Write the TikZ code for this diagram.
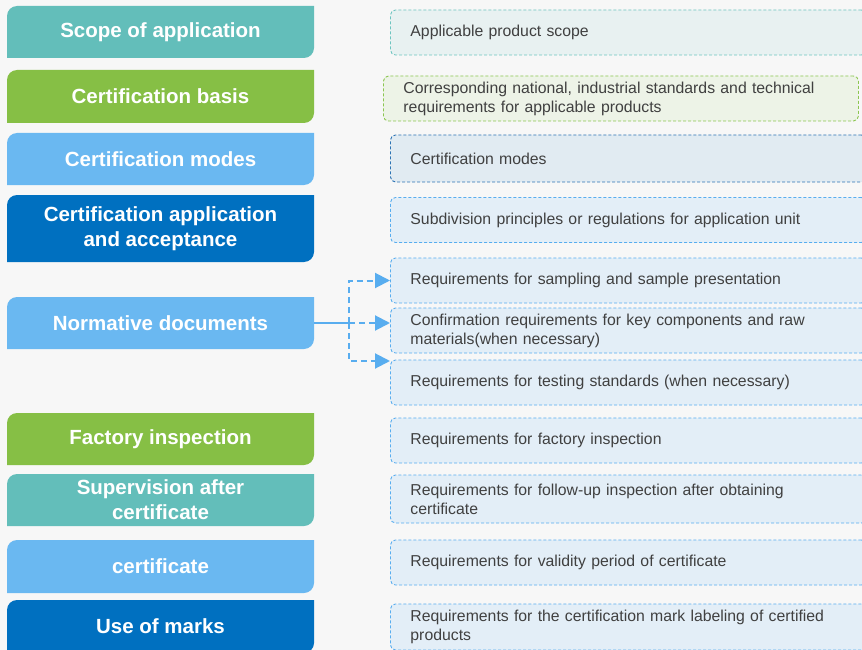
\documentclass[tikz,border=0pt]{standalone}
\usepackage{fontspec}
\setmainfont{Liberation Sans}
\usetikzlibrary{arrows.meta}

\definecolor{teal1}{HTML}{63BEBA}
\definecolor{green1}{HTML}{86BF45}
\definecolor{sky1}{HTML}{6AB8F1}
\definecolor{navy1}{HTML}{0070C0}
\definecolor{tealbg}{HTML}{E8F1F1}
\definecolor{greenbg}{HTML}{EDF3E7}
\definecolor{navybg}{HTML}{E1EBF2}
\definecolor{skybg}{HTML}{E3EEF7}
\definecolor{tealln}{HTML}{6CC4C0}
\definecolor{greenln}{HTML}{8CC650}
\definecolor{navyln}{HTML}{2C73B4}
\definecolor{skyln}{HTML}{58ADEF}
\definecolor{pagebg}{HTML}{F7F7F7}
\definecolor{ink}{HTML}{404040}

\begin{document}
\begin{tikzpicture}[x=1pt, y=-1pt,
    head/.style={minimum width=307pt, minimum height=52pt,
        inner sep=0pt, align=center, text=white, font=\bfseries\fontsize{20.5}{25}\selectfont,
        path picture={
            \fill[#1] (path picture bounding box.south west)
                -- ([yshift=-10pt]path picture bounding box.north west)
                arc[start angle=180, end angle=90, radius=10pt]
                -- (path picture bounding box.north east)
                -- ([yshift=10pt]path picture bounding box.south east)
                arc[start angle=0, end angle=-90, radius=10pt]
                -- cycle;
        }},
    req/.style={draw=#1ln, fill=#1bg, line width=0.9pt, dash pattern=on 3pt off 2pt,
        rounded corners=5pt, minimum height=45pt, text width=436pt, inner xsep=20pt, inner ysep=0pt,
        align=left, anchor=west, text=ink, font=\fontsize{15.8}{19}\selectfont},
    link/.style={draw=skyln, line width=2pt},
    tip/.style={dash pattern=on 6pt off 4pt, -{Triangle[length=15pt,width=15pt]}}]

    % Page
    \useasboundingbox (0,0) rectangle (862,650);
    \fill[pagebg] (0,0) rectangle (862,650);

    % Left column
    \node[head=teal1] (scope) at (160.5,32) {Scope of application};
    \node[head=green1, minimum height=53pt] (basis) at (160.5,96.5) {Certification basis};
    \node[head=sky1] (modes) at (160.5,159) {Certification modes};
    \node[head=navy1, minimum height=67pt] (apply) at (160.5,228.5) {Certification application\\and acceptance};
    \node[head=sky1] (norm) at (160.5,323) {Normative documents};
    \node[head=green1] (factory) at (160.5,439) {Factory inspection};
    \node[head=teal1] (super) at (160.5,500) {Supervision after\\certificate};
    \node[head=sky1, minimum height=53pt] (cert) at (160.5,566.5) {certificate};
    \node[head=navy1, minimum height=53pt] (marks) at (160.5,626.5) {Use of marks};

    % Right column
    \node[req=teal] (r1) at (390,32.5) {Applicable product scope};
    \node[req=green, text width=435pt] (r2) at (383,98.5) {Corresponding national, industrial standards and technical\\requirements for applicable products};
    \node[req=navy, minimum height=47pt] (r3) at (390,158.5) {Certification modes};
    \node[req=sky] (r4) at (390,220) {Subdivision principles or regulations for application unit};
    \node[req=sky] (r5) at (390,280.5) {Requirements for sampling and sample presentation};
    \node[req=sky] (r6) at (390,330.5) {Confirmation requirements for key components and raw\\materials(when necessary)};
    \node[req=sky] (r7) at (390,382.5) {Requirements for testing standards (when necessary)};
    \node[req=sky] (r8) at (390,440.5) {Requirements for factory inspection};
    \node[req=sky, minimum height=48pt] (r9) at (390,499) {Requirements for follow-up inspection after obtaining\\certificate};
    \node[req=sky] (r10) at (390,562.5) {Requirements for validity period of certificate};
    \node[req=sky, minimum height=46pt] (r11) at (390,627) {Requirements for the certification mark labeling of certified\\products};

    % Branches of the normative documents
    \coordinate (split) at (349,323);
    \coordinate (low) at (390,361);
    \draw[link] (norm.east) -- (split);
    \draw[link, tip] (split) |- (r5.west);
    \draw[link, tip] (split) -- (r6.west |- split);
    \draw[link, tip] (split) |- (low);
\end{tikzpicture}
\end{document}
